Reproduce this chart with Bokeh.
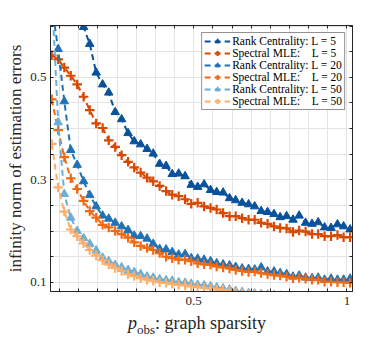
from bokeh.plotting import figure
from bokeh.layouts import column
from bokeh.models import (Range1d, FixedTicker, CustomJSTickFormatter, LinearAxis,
                          Legend, LegendItem, Div)
from bokeh.embed import file_html
from bokeh.resources import INLINE

# ---------------- data ----------------
p_obs = [0.037, 0.058, 0.078, 0.099, 0.120, 0.141, 0.161, 0.182, 0.203, 0.223,
         0.244, 0.265, 0.286, 0.306, 0.327, 0.348, 0.368, 0.389, 0.410, 0.430,
         0.451, 0.472, 0.492, 0.513, 0.534, 0.555, 0.575, 0.596, 0.617, 0.637,
         0.658, 0.679, 0.699, 0.720, 0.741, 0.762, 0.782, 0.803, 0.824, 0.844,
         0.865, 0.886, 0.906, 0.927, 0.948, 0.969, 0.989, 1.010]

rc_L5 = [1.30, 1.05, 0.88, 0.76, 0.68, 0.598, 0.565, 0.509, 0.486, 0.470,
         0.432, 0.418, 0.391, 0.375, 0.369, 0.360, 0.351, 0.331, 0.327, 0.311,
         0.312, 0.307, 0.290, 0.286, 0.291, 0.280, 0.276, 0.275, 0.264, 0.260,
         0.255, 0.252, 0.248, 0.239, 0.237, 0.233, 0.227, 0.229, 0.222, 0.230,
         0.216, 0.214, 0.217, 0.207, 0.206, 0.213, 0.209, 0.203]

sm_L5 = [0.543, 0.535, 0.519, 0.503, 0.486, 0.462, 0.436, 0.410, 0.401, 0.377,
         0.364, 0.348, 0.335, 0.324, 0.314, 0.304, 0.297, 0.288, 0.278, 0.271,
         0.268, 0.262, 0.253, 0.255, 0.248, 0.245, 0.242, 0.235, 0.229, 0.229,
         0.225, 0.222, 0.222, 0.216, 0.214, 0.209, 0.206, 0.205, 0.198, 0.201,
         0.199, 0.194, 0.194, 0.190, 0.190, 0.192, 0.188, 0.188]

rc_L20 = [0.640, 0.555, 0.453, 0.358, 0.329, 0.297, 0.270, 0.248, 0.230, 0.224,
          0.216, 0.209, 0.202, 0.191, 0.190, 0.185, 0.175, 0.165, 0.164, 0.159,
          0.154, 0.155, 0.147, 0.146, 0.144, 0.141, 0.137, 0.135, 0.133, 0.130,
          0.127, 0.126, 0.125, 0.129, 0.121, 0.121, 0.118, 0.116, 0.111, 0.113,
          0.109, 0.108, 0.109, 0.105, 0.107, 0.105, 0.105, 0.107]

sm_L20 = [0.457, 0.397, 0.344, 0.303, 0.282, 0.259, 0.239, 0.226, 0.212, 0.207,
          0.200, 0.194, 0.187, 0.178, 0.171, 0.167, 0.163, 0.157, 0.150, 0.147,
          0.144, 0.144, 0.141, 0.137, 0.135, 0.134, 0.131, 0.129, 0.127, 0.124,
          0.122, 0.120, 0.121, 0.118, 0.116, 0.114, 0.113, 0.111, 0.108, 0.109,
          0.107, 0.105, 0.105, 0.101, 0.101, 0.100, 0.100, 0.099]

rc_L50 = [0.670, 0.412, 0.272, 0.226, 0.200, 0.186, 0.175, 0.162, 0.148, 0.141,
          0.134, 0.129, 0.124, 0.120, 0.116, 0.111, 0.109, 0.106, 0.104, 0.103,
          0.100, 0.099, 0.097, 0.095, 0.094, 0.092, 0.090, 0.088, 0.086, 0.083,
          0.081, 0.079, 0.078, 0.077, 0.076, 0.075, 0.074, 0.073, 0.072, 0.071,
          0.070, 0.070, 0.069, 0.068, 0.067, 0.067, 0.066, 0.065]

sm_L50 = [0.370, 0.285, 0.238, 0.203, 0.190, 0.176, 0.163, 0.152, 0.143, 0.135,
          0.128, 0.122, 0.116, 0.112, 0.108, 0.105, 0.103, 0.100, 0.099, 0.097,
          0.095, 0.094, 0.092, 0.091, 0.089, 0.088, 0.086, 0.085, 0.083, 0.080,
          0.078, 0.077, 0.076, 0.075, 0.074, 0.073, 0.072, 0.071, 0.070, 0.069,
          0.068, 0.068, 0.067, 0.066, 0.065, 0.065, 0.064, 0.063]

series_labels = ["Rank Centrality: L = 5",
                 "Spectral MLE:\u00a0\u00a0\u00a0\u00a0L = 5",
                 "Rank Centrality: L = 20",
                 "Spectral MLE:\u00a0\u00a0\u00a0\u00a0L = 20",
                 "Rank Centrality: L = 50",
                 "Spectral MLE:\u00a0\u00a0\u00a0\u00a0L = 50"]

x_tick_values = [k / 16 for k in range(1, 17)]
x_tick_labels = {"0.5": 0.5, "1": 1.0}
y_tick_values = [0.10, 0.15, 0.20, 0.25, 0.30, 0.35, 0.40, 0.45, 0.50, 0.55, 0.60]
y_tick_labels = {"0.1": 0.1, "0.3": 0.3, "0.5": 0.5}

# ---------------- styling ----------------
FONT = "Liberation Serif"
AX = "#262626"
colors = ["#08519c", "#d94801", "#2171b5", "#f16913", "#6baed6", "#fdae6b"]
markers = ["triangle", "cross", "triangle", "cross", "triangle", "cross"]

p = figure(width=390, height=313, output_backend="svg", toolbar_location=None,
           x_range=Range1d(0.033, 1.018), y_range=Range1d(0.082, 0.601),
           min_border_left=50, min_border_right=38, min_border_top=25,
           min_border_bottom=22, margin=0)
p.background_fill_color = "white"
p.border_fill_color = "white"
p.outline_line_color = AX
p.outline_line_width = 1


def fmt(d):
    return CustomJSTickFormatter(
        args=dict(vals=list(d.values()), labs=list(d.keys())),
        code="for (let i = 0; i < vals.length; i++) { if (Math.abs(tick - vals[i]) < 1e-6) return labs[i]; } return '';")


blank = CustomJSTickFormatter(code="return '';")
xt = FixedTicker(ticks=x_tick_values)
yt = FixedTicker(ticks=y_tick_values)

for ax, tk, f in ((p.xaxis[0], xt, fmt(x_tick_labels)), (p.yaxis[0], yt, fmt(y_tick_labels))):
    ax.ticker = tk
    ax.formatter = f
    ax.major_tick_in = 3
    ax.major_tick_out = 0
    ax.minor_tick_line_color = None
    ax.axis_line_color = AX
    ax.major_tick_line_color = AX
    ax.major_label_text_font = FONT
    ax.major_label_text_font_size = "13px"
    ax.major_label_text_color = AX

p.xaxis.major_label_standoff = 5
p.yaxis.major_label_standoff = 4
p.yaxis.axis_label = "infinity norm of estimation errors"
p.yaxis.axis_label_text_font = FONT
p.yaxis.axis_label_text_font_size = "17px"
p.yaxis.axis_label_text_font_style = "normal"
p.yaxis.axis_label_text_color = AX
p.yaxis.axis_label_standoff = 2

top_axis = LinearAxis(ticker=xt, formatter=blank)
right_axis = LinearAxis(ticker=yt, formatter=blank)
for ax in (top_axis, right_axis):
    ax.major_tick_in = 3
    ax.major_tick_out = 0
    ax.minor_tick_line_color = None
    ax.axis_line_color = AX
    ax.major_tick_line_color = AX
    ax.major_label_text_font_size = "0px"
    ax.major_label_standoff = 0
p.add_layout(top_axis, "above")
p.add_layout(right_axis, "right")

p.xgrid.grid_line_color = "#e4e4e4"
p.ygrid.grid_line_color = "#e4e4e4"

all_series = [rc_L5, sm_L5, rc_L20, sm_L20, rc_L50, sm_L50]
items = []
for ys, col, mk, lab in zip(all_series, colors, markers, series_labels):
    rl = p.line(p_obs, ys, line_color=col, line_width=2, line_dash="6 4")
    if mk == "triangle":
        rs = p.scatter(p_obs, ys, marker="triangle", size=8.5, fill_color=col,
                       line_color=col, line_width=1)
    else:
        rs = p.scatter(p_obs, ys, marker="cross", size=9.5, line_color=col,
                       line_width=2.2)
    items.append(LegendItem(label=lab, renderers=[rl, rs]))

legend = Legend(items=items, location="top_right", margin=7, padding=2, spacing=0,
                label_standoff=2, glyph_width=26, glyph_height=12, label_height=12,
                label_text_font=FONT, label_text_font_size="11.5px",
                label_text_color="black", border_line_color=AX, border_line_width=1,
                background_fill_color="white", background_fill_alpha=1)
p.add_layout(legend)

# x-axis label: p_obs: graph sparsity (as real HTML text below the plot)
xlabel = Div(
    text=('<div style="margin-left:128px; font-family:\'Liberation Serif\', serif; '
          'font-size:18px; line-height:20px; color:#262626; white-space:nowrap;">'
          '<i>p</i><sub style="font-size:13px; line-height:0;">obs</sub>: graph sparsity</div>'),
    width=390, height=26, margin=0)

layout = column(p, xlabel, spacing=0, margin=0)

open("out.html", "w").write(file_html(layout, INLINE))
